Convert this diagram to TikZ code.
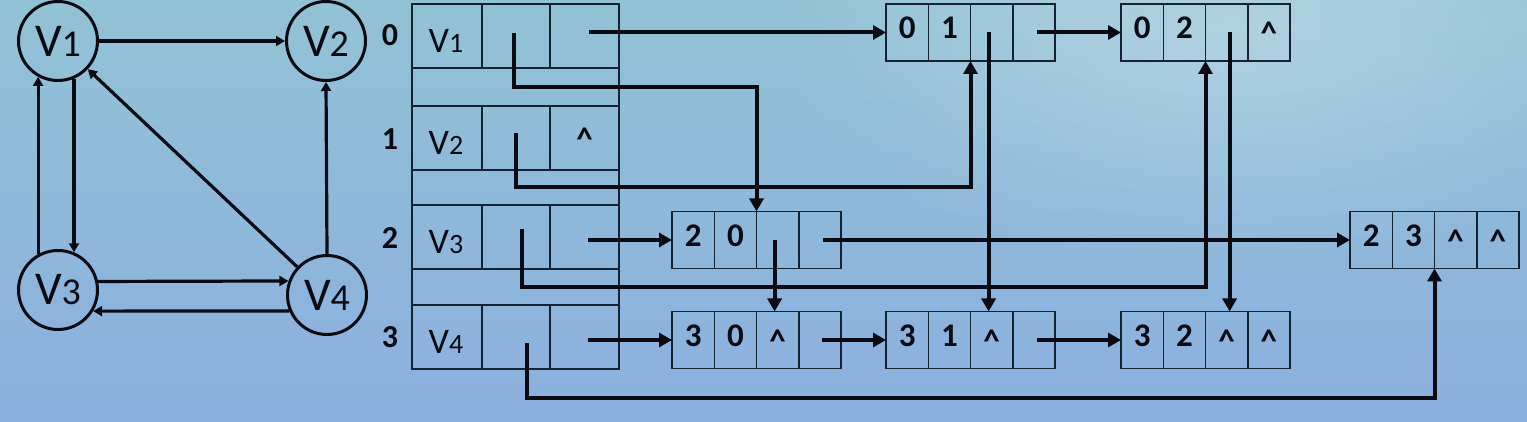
\documentclass[tikz,border=0pt]{standalone}
\usepackage{fontspec}
\setmainfont{Carlito}
\usetikzlibrary{arrows.meta,calc,fadings}
\tikzfading[name=myglow, inner color=transparent!0, outer color=transparent!100]
\definecolor{bgtop}{RGB}{146,194,214}
\definecolor{bgbot}{RGB}{139,175,222}
\definecolor{boxline}{RGB}{20,34,50}
\definecolor{ink}{RGB}{10,10,18}
\newcommand\gV[1]{{\fontsize{23.5}{26}\selectfont V}{\fontsize{19}{21}\selectfont #1}}
\newcommand\hV[1]{{\fontsize{18}{20}\selectfont V}{\fontsize{14}{16}\selectfont #1}}
\newcommand\nilmark{\raisebox{-0.18em}{\textasciicircum}}
\newcommand\mkarc[7]{%
 \node[cell] (#1-1) at (#2,#3) {#4};
 \node[cell,anchor=west] (#1-2) at (#1-1.east) {#5};
 \node[cell,anchor=west] (#1-3) at (#1-2.east) {#6};
 \node[cell,anchor=west] (#1-4) at (#1-3.east) {#7};}
\tikzset{
  cell/.style={draw=boxline, line width=0.75pt, minimum width=21.125pt, minimum height=28.5pt,
    inner sep=0pt, outer sep=0pt, text=ink, text height=0.62em, text depth=0pt,
    font=\fontsize{16.5}{18}\selectfont\bfseries},
  hcell/.style={draw=boxline, line width=0.75pt, minimum height=32pt, inner sep=0pt, outer sep=0pt},
  gapcell/.style={draw=boxline, line width=0.75pt, minimum width=103.5pt, inner sep=0pt, outer sep=0pt},
  htext/.style={inner sep=0pt, text=ink},
  idx/.style={inner sep=0pt, text=ink, font=\fontsize{16}{18}\selectfont\bfseries},
  vert/.style={circle, draw=ink, line width=1.5pt, minimum size=39.5pt, inner sep=0pt, text=ink},
  gedge/.style={draw=ink, line width=1.6pt, -{Triangle[length=4.5pt,width=5pt]}},
  ptr/.style={draw=ink, line width=2pt, -{Triangle[length=6.5pt,width=7pt]}},
}
\begin{document}
\begin{tikzpicture}[x=0.5pt,y=-0.5pt]
\useasboundingbox (0,0) rectangle (1527,422);
\shade[top color=bgtop, bottom color=bgbot] (0,0) rectangle (1527,422);
\fill[white, opacity=0.28, path fading=myglow] (1230,30) ellipse [x radius=460, y radius=240];

% ---------- graph ----------
\node[vert] (v1) at (58,41) {\gV{1}};
\node[vert] (v2) at (326,41) {\gV{2}};
\node[vert] (v3) at (58,290) {\gV{3}};
\node[vert] (v4) at (327,295) {\gV{4}};
\draw[gedge] (v1) -- (v2);
\draw[gedge] (v1.-67) -- (v3.67);
\draw[gedge] (v3.119) -- (v1.-119);
\draw[gedge] (v4) -- (v1);
\draw[gedge] (v4.north) -- (v2.south);
\draw[gedge] (v3.12) -- (v4.160.5);
\draw[gedge] (v4.-157.4) -- (v3.-31);

% ---------- head table ----------
\node[hcell,minimum width=35pt] (h0-1) at (447,36) {};
\node[hcell,minimum width=34pt,anchor=west] (h0-2) at (h0-1.east) {};
\node[hcell,minimum width=34.5pt,anchor=west] (h0-3) at (h0-2.east) {};
\node[hcell,minimum width=35pt] (h1-1) at (447,138) {};
\node[hcell,minimum width=34pt,anchor=west] (h1-2) at (h1-1.east) {};
\node[hcell,minimum width=34.5pt,anchor=west] (h1-3) at (h1-2.east) {};
\node[hcell,minimum width=35pt] (h2-1) at (447,237) {};
\node[hcell,minimum width=34pt,anchor=west] (h2-2) at (h2-1.east) {};
\node[hcell,minimum width=34.5pt,anchor=west] (h2-3) at (h2-2.east) {};
\node[hcell,minimum width=35pt] (h3-1) at (447,337) {};
\node[hcell,minimum width=34pt,anchor=west] (h3-2) at (h3-1.east) {};
\node[hcell,minimum width=34.5pt,anchor=west] (h3-3) at (h3-2.east) {};
\node[gapcell,minimum height=19pt] (g01) at (515.5,87) {};
\node[gapcell,minimum height=17.5pt] (g12) at (515.5,187.5) {};
\node[gapcell,minimum height=18pt] (g23) at (515.5,287) {};

\node[htext] (t0) at (446,41) {\hV{1}};
\node[htext] (t1) at (446,143) {\hV{2}};
\node[htext] (t2) at (446,242) {\hV{3}};
\node[htext] (t3) at (446,342) {\hV{4}};
\node[cell,draw=none] (nil1) at (h1-3.center) {\nilmark};

\node[idx] (i0) at (390,35) {0};
\node[idx] (i1) at (390,139) {1};
\node[idx] (i2) at (390,238) {2};
\node[idx] (i3) at (390,337) {3};

% ---------- arc nodes ----------
\mkarc{c01}{907.125}{32.5}{0}{1}{}{}
\mkarc{c02}{1142.125}{32.5}{0}{2}{}{\nilmark}
\mkarc{c20}{693.125}{240}{2}{0}{}{}
\mkarc{c23}{1371.125}{240}{2}{3}{\nilmark}{\nilmark}
\mkarc{c30}{693.125}{340}{3}{0}{\nilmark}{}
\mkarc{c31}{907.125}{340}{3}{1}{\nilmark}{}
\mkarc{c32}{1142.125}{340}{3}{2}{\nilmark}{\nilmark}

% ---------- pointers ----------
\coordinate (p0) at ($(h0-2.center)+(-2,-3)$);
\coordinate (p1) at ($(h1-2.center)+(0,-5)$);
\coordinate (p2) at ($(h2-2.center)+(6,-8)$);
\coordinate (p3) at ($(h3-2.center)+(11,6)$);
\coordinate (low) at (0,398);
\draw[ptr] (p0) -- (p0 |- g01.center) -| (c20-3.north west);
\draw[ptr] (p1) -- (p1 |- g12.center) -| (c01-3.south west);
\draw[ptr] (p2) -- (p2 |- g23.center) -| (c02-3.south west);
\draw[ptr] (p3) -- (p3 |- low) -| (c23-3.south west);

\draw[ptr] ($(c01-1.west -| h0-3.center)+(4,0)$) -- (c01-1.west);
\draw[ptr] ($(c20-1.west -| h2-3.center)+(3,0)$) -- (c20-1.west);
\draw[ptr] ($(c30-1.west -| h3-3.center)+(3,0)$) -- (c30-1.west);
\draw[ptr] ([xshift=1.5pt]c01-4.center) -- (c02-1.west);
\draw[ptr] ([xshift=1.5pt]c20-4.center) -- (c23-1.west);
\draw[ptr] ([xshift=1pt]c30-4.center) -- (c31-1.west);
\draw[ptr] ([xshift=1.5pt]c31-4.center) -- (c32-1.west);

\draw[ptr] ([xshift=-1.5pt]c01-3.center) -- ([xshift=-1.5pt]c31-3.north);
\draw[ptr] ([xshift=1.5pt]c02-3.center) -- ([xshift=1.5pt]c32-3.north);
\draw[ptr] ([xshift=-1.5pt]c20-3.center) -- ([xshift=-1.5pt]c30-3.north);
\end{tikzpicture}
\end{document}
